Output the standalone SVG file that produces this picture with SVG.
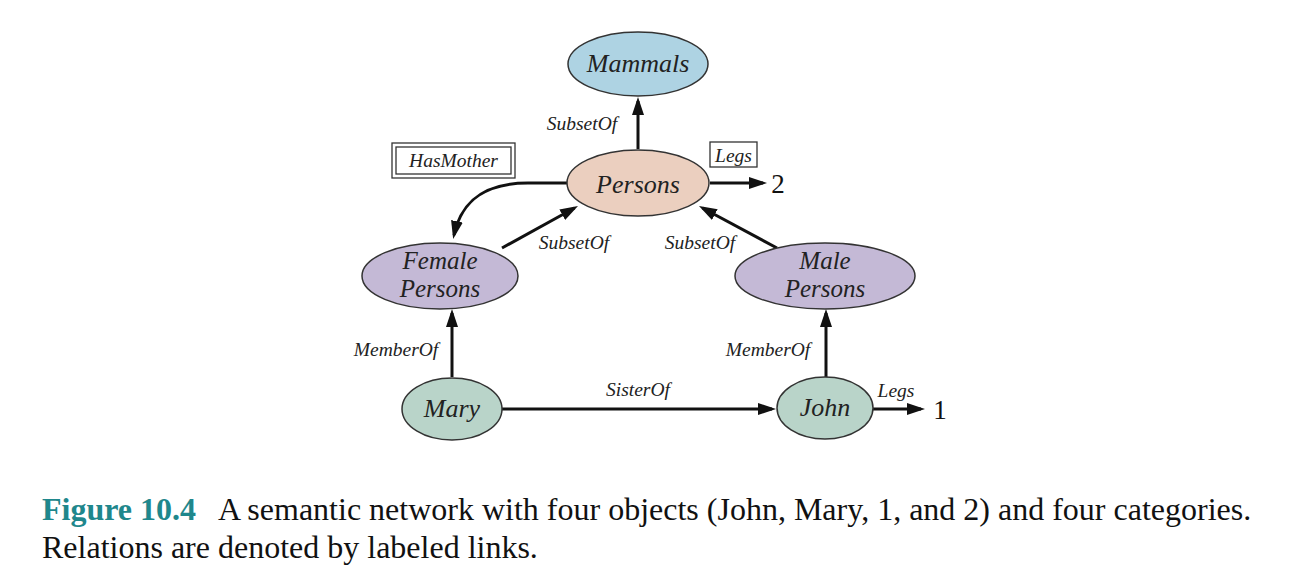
<svg xmlns="http://www.w3.org/2000/svg" width="1296" height="584" viewBox="0 0 1296 584">
<style>
.node{stroke:#333;stroke-width:1.5}
.nt{font-family:"Liberation Serif","DejaVu Serif",serif;font-style:italic;font-size:26px;fill:#222;text-anchor:middle}
.nt2{font-family:"Liberation Serif","DejaVu Serif",serif;font-style:italic;font-size:25px;fill:#222;text-anchor:middle}
.lbl{font-family:"Liberation Serif","DejaVu Serif",serif;font-style:italic;font-size:19.5px;fill:#222}
.num{font-family:"Liberation Serif","DejaVu Serif",serif;font-size:27px;fill:#111}
.edge{stroke:#111;stroke-width:3;fill:none;marker-end:url(#ah)}
.box{fill:#fff;stroke:#333;stroke-width:1.3}
.cap{font-family:"Liberation Serif","DejaVu Serif",serif;font-size:32px;fill:#111}
</style>
<defs>
<marker id="ah" markerUnits="userSpaceOnUse" markerWidth="20" markerHeight="14" refX="14" refY="6" orient="auto">
<path d="M0,0 L18,6 L0,12 z" fill="#111"/>
</marker>
</defs>
<rect width="1296" height="584" fill="#fff"/>
<g id="connectors">
<line class="edge" x1="638" y1="149" x2="638" y2="101"/>
<line class="edge" x1="710" y1="183" x2="763" y2="183"/>
<line class="edge" x1="502" y1="248" x2="574.5" y2="208"/>
<line class="edge" x1="777" y1="248" x2="702.5" y2="208"/>
<line class="edge" x1="452" y1="377" x2="452" y2="313"/>
<line class="edge" x1="826" y1="377" x2="826" y2="313"/>
<line class="edge" x1="502" y1="409" x2="772" y2="409"/>
<line class="edge" x1="873" y1="409" x2="921" y2="409"/>
<path class="edge" d="M567,183 L528,183 C488,183 462,198 454,235"/>
</g>
<g id="edge-labels">
<text class="lbl" x="582" y="130" text-anchor="middle">SubsetOf</text>
<text class="lbl" x="574" y="249" text-anchor="middle">SubsetOf</text>
<text class="lbl" x="700" y="249" text-anchor="middle">SubsetOf</text>
<text class="lbl" x="396" y="356" text-anchor="middle">MemberOf</text>
<text class="lbl" x="768" y="356" text-anchor="middle">MemberOf</text>
<text class="lbl" x="638" y="396" text-anchor="middle">SisterOf</text>
<text class="lbl" x="896" y="397" text-anchor="middle">Legs</text>
</g>
<g id="hasmother">
<rect class="box" x="392" y="143" width="123" height="35"/>
<rect class="box" x="396" y="147" width="115" height="27"/>
<text class="lbl" x="453.5" y="167" text-anchor="middle">HasMother</text>
</g>
<g id="legs-box">
<rect class="box" x="710" y="142" width="47" height="25"/>
<text class="lbl" x="733.5" y="162" text-anchor="middle">Legs</text>
</g>
<g id="mammals">
<ellipse class="node" cx="638" cy="64" rx="70" ry="32" fill="#aed3e3"/>
<text class="nt" x="638" y="72">Mammals</text>
</g>
<g id="persons">
<ellipse class="node" cx="638" cy="183" rx="71" ry="33" fill="#ebcfbf"/>
<text class="nt" x="638" y="193">Persons</text>
</g>
<g id="female-persons">
<ellipse class="node" cx="440" cy="276" rx="78" ry="33" fill="#c4b9d6"/>
<text class="nt2" x="440" y="269">Female</text>
<text class="nt2" x="440" y="297">Persons</text>
</g>
<g id="male-persons">
<ellipse class="node" cx="825" cy="276" rx="90" ry="33" fill="#c4b9d6"/>
<text class="nt2" x="825" y="269">Male</text>
<text class="nt2" x="825" y="297">Persons</text>
</g>
<g id="mary">
<ellipse class="node" cx="452" cy="409" rx="50" ry="31" fill="#b9d4c9"/>
<text class="nt" x="452" y="417">Mary</text>
</g>
<g id="john">
<ellipse class="node" cx="825" cy="408" rx="48" ry="31" fill="#b9d4c9"/>
<text class="nt" x="825" y="416">John</text>
</g>
<g id="two">
<text class="num" x="778" y="193" text-anchor="middle">2</text>
</g>
<g id="one">
<text class="num" x="940" y="419" text-anchor="middle">1</text>
</g>
<g id="caption">
<text class="cap" x="42" y="520"><tspan font-weight="bold" fill="#1f878c">Figure 10.4</tspan><tspan x="218">A semantic network with four objects (John, Mary, 1, and 2) and four categories.</tspan></text>
<text class="cap" x="42" y="558">Relations are denoted by labeled links.</text>
</g>
</svg>
